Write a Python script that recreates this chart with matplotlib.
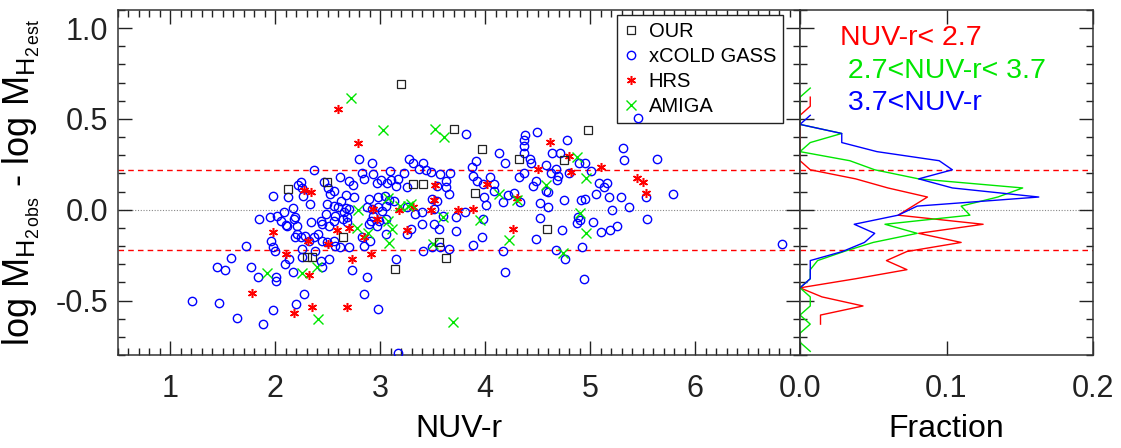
import matplotlib
matplotlib.use('Agg')
import matplotlib.pyplot as plt
from matplotlib import font_manager
from matplotlib.ticker import MultipleLocator
import numpy as np

# ---- OUR sample (black squares)
our_x = [3.20, 3.70, 3.97, 4.32, 4.98, 4.75, 2.12, 2.49, 3.31, 3.41, 3.90, 2.64,
         2.30, 2.35, 3.14, 3.56, 3.63, 4.59]
our_y = [0.692, 0.445, 0.335, 0.280, 0.440, 0.275, 0.115, 0.154, 0.143, 0.143,
         0.093, -0.148, -0.258, -0.258, -0.324, -0.176, -0.264, -0.104]

# ---- xCOLD GASS (blue circles)
xcg_x = [2.80, 2.92, 3.27, 3.31, 3.41, 2.37, 2.62, 2.83, 2.93, 3.09, 3.23, 3.37,
         3.44, 3.48, 3.57, 3.66, 2.24, 2.46, 2.70, 2.84, 3.01, 3.10, 3.17, 3.63,
         2.22, 2.25, 1.98, 2.12, 2.26, 2.50, 2.56, 2.52, 2.74, 2.97, 3.06, 3.15,
         3.25, 3.54, 3.63, 3.65, 3.49, 3.54, 2.75, 2.67, 2.63, 2.89, 2.98, 3.04,
         3.08, 3.13, 2.08, 2.17, 2.19, 2.33, 2.49, 2.56, 2.60, 2.67, 2.70, 2.48,
         2.57, 2.68, 2.65, 2.87, 2.92, 2.98, 3.02, 3.05, 3.25, 3.40, 3.33, 3.51,
         3.60, 1.95, 1.84, 2.02, 2.05, 2.11, 2.18, 2.10, 2.21, 2.34, 2.43, 2.44,
         2.51, 2.56, 2.64, 2.68, 2.93, 2.91, 2.89, 2.99, 2.97, 3.05, 3.29, 3.40,
         3.51, 3.56, 1.96, 1.98, 2.00, 2.21, 2.19, 2.24, 2.28, 2.32, 2.37, 2.41,
         2.44, 2.25, 2.49, 2.56, 2.57, 2.62, 2.70, 2.84, 2.90, 2.83, 3.05, 3.25,
         3.41, 3.49, 3.57, 3.65, 1.72, 2.09, 2.13, 2.17, 2.25, 2.38, 2.43, 2.51,
         2.73, 2.87, 3.15, 1.44, 1.52, 1.58, 1.77, 1.83, 2.01, 2.01, 1.21, 1.46,
         1.63, 1.88, 1.98, 2.20, 2.27, 2.84, 2.98, 3.17, 2.44,
         3.82, 3.91, 3.87, 3.92, 3.88, 3.81, 3.72, 3.72, 3.88, 4.19, 4.94, 5.64,
         5.79, 6.83, 5.46,
         4.38, 4.49, 4.37, 4.37, 4.37, 4.13, 4.19, 4.43, 4.44, 4.37, 4.32, 4.48,
         4.46, 4.58, 4.64, 4.71, 4.78, 4.63, 4.67, 4.69, 4.68, 4.80, 4.89, 4.95,
         5.01, 5.08, 5.16, 5.13, 5.06, 5.18, 5.29, 5.31, 5.32, 5.37, 5.54, 5.53,
         5.21, 5.03, 5.10, 5.19, 5.26, 4.88, 4.90, 4.87, 4.92, 4.73, 4.76, 4.67,
         4.48, 4.52, 4.60, 4.52, 4.75, 4.91, 4.95, 4.17, 3.97, 3.98, 3.99, 4.08,
         4.17, 4.22, 4.27, 4.33, 4.58, 4.60, 4.01, 4.08, 3.98, 4.05]
xcg_y = [0.277, 0.255, 0.282, 0.258, 0.260, 0.220, 0.181, 0.205, 0.196, 0.214,
         0.200, 0.223, 0.220, 0.209, 0.196, 0.205, 0.150, 0.150, 0.159, 0.168,
         0.165, 0.165, 0.168, 0.159, 0.137, 0.119, 0.077, 0.068, 0.077, 0.119,
         0.104, 0.086, 0.137, 0.145, 0.145, 0.132, 0.126, 0.132, 0.123, 0.086,
         0.059, 0.049, 0.068, 0.081, 0.049, 0.059, 0.068, 0.077, 0.055, 0.049,
         -0.015, 0.009, -0.042, 0.031, 0.031, 0.022, 0.013, 0.009, 0.004, -0.024,
         -0.033, -0.042, -0.015, 0.016, 0.004, 0.013, -0.005, 0.022, 0.013, -0.015,
         -0.024, 0.004, -0.033, -0.042, -0.051, -0.033, -0.060, -0.088, -0.051,
         -0.082, -0.088, -0.070, -0.060, -0.079, -0.088, -0.060, -0.051, -0.070,
         -0.033, -0.060, -0.079, -0.060, -0.088, -0.051, -0.106, -0.079, -0.079,
         -0.106, -0.170, -0.207, -0.225, -0.134, -0.152, -0.152, -0.143, -0.170,
         -0.152, -0.134, -0.170, -0.216, -0.179, -0.170, -0.198, -0.207, -0.207,
         -0.198, -0.170, -0.152, -0.134, -0.134, -0.225, -0.207, -0.207, -0.216,
         -0.200, -0.299, -0.271, -0.344, -0.262, -0.225, -0.280, -0.271, -0.332,
         -0.372, -0.271, -0.317, -0.332, -0.266, -0.317, -0.372, -0.372, -0.390,
         -0.500, -0.511, -0.597, -0.632, -0.551, -0.518, -0.463, -0.463, -0.549,
         -0.789, -0.317,
         0.416, 0.269, 0.236, 0.159, 0.187, -0.015, -0.042, -0.115, -0.192, -0.344,
         -0.381, 0.282, 0.086, -0.189, 0.507,
         0.412, 0.430, 0.385, 0.352, 0.315, 0.315, 0.260, 0.278, 0.260, 0.205,
         0.178, 0.159, 0.132, 0.245, 0.315, 0.310, 0.385, 0.205, 0.223, 0.187,
         0.163, 0.205, 0.255, 0.255, 0.211, 0.145, 0.145, 0.123, 0.086, 0.071,
         0.068, 0.339, 0.275, 0.013, -0.051, 0.071, -0.002, -0.070, -0.125, -0.112,
         -0.088, -0.038, -0.057, -0.075, -0.207, -0.112, -0.271, -0.222, -0.161,
         -0.046, 0.013, 0.035, 0.053, 0.053, 0.059, -0.229, -0.152, -0.051, 0.071,
         0.101, 0.040, 0.081, 0.090, 0.040, 0.104, 0.095, 0.026, 0.141, 0.141, 0.178]

# ---- HRS (red asterisks)
hrs_x = [2.60, 2.79, 2.27, 2.34, 1.98, 2.10, 2.31, 2.50, 2.70, 2.59, 2.84, 2.73,
         2.91, 2.32, 1.78, 2.18, 2.35, 2.68, 2.93, 2.97, 3.18, 3.31, 3.48, 3.51,
         3.52, 3.74, 3.88, 4.02, 3.25, 4.62, 4.80, 4.50, 4.82, 5.10, 5.45, 5.50,
         5.53, 4.30, 4.26]
hrs_y = [0.555, 0.368, 0.110, 0.099, -0.121, -0.242, -0.170, -0.187, -0.099, -0.110,
         -0.148, -0.269, -0.242, -0.357, -0.456, -0.566, -0.533, -0.533, 0.005,
         -0.049, 0.000, 0.016, 0.000, 0.055, 0.137, 0.000, 0.005, 0.143, -0.110,
         0.374, 0.297, 0.225, 0.209, 0.236, 0.176, 0.154, 0.093, 0.066, -0.104]

# ---- AMIGA (green crosses)
amiga_x = [2.72, 3.03, 3.52, 3.61, 4.87, 4.96, 4.58, 4.13, 4.30, 4.90, 4.96, 4.23,
           4.74, 3.95, 3.69, 2.79, 2.78, 2.88, 3.08, 3.07, 3.11, 3.07, 3.19, 3.26,
           3.50, 3.60, 1.92, 2.25, 2.40, 2.41, 3.29]
amiga_y = [0.615, 0.440, 0.445, 0.401, 0.291, 0.176, 0.137, 0.088, 0.055, -0.016,
           -0.126, -0.165, -0.236, -0.055, -0.621, 0.000, -0.099, -0.126, -0.181,
           -0.060, -0.104, 0.066, 0.022, 0.022, -0.187, -0.038, -0.346, -0.346,
           -0.313, -0.604, 0.033]

# ---- fraction histograms (right panel), NaN = bin not drawn
bin_y = [0.67, 0.62, 0.57, 0.52, 0.47, 0.42, 0.37, 0.32, 0.27, 0.22, 0.17, 0.12,
         0.07, 0.02, -0.03, -0.08, -0.13, -0.18, -0.23, -0.28, -0.33, -0.38,
         -0.43, -0.48, -0.53, -0.58, -0.63, -0.68, -0.73, -0.78]
nan = np.nan
frac_blue_nuv = [nan, 0.007, 0.007, 0.0, 0.0, 0.0, 0.0, 0.0, 0.0, 0.007, 0.038, 0.060,
                 0.087, 0.077, 0.067, 0.125, 0.081, 0.110, 0.073, 0.059, 0.073,
                 0.038, 0.0, 0.015, 0.043, 0.014, 0.014, nan, nan, nan]
frac_mid_nuv = [0.007, 0.0, 0.0, 0.0, 0.0, 0.0285, 0.007, 0.0, 0.034, 0.051, 0.081,
                0.152, 0.135, 0.110, 0.116, 0.058, 0.080, 0.050, 0.030, 0.012,
                0.007, 0.007, 0.0, 0.007, 0.007, 0.0, 0.007, 0.0, 0.0, 0.007]
frac_red_nuv = [nan, nan, nan, 0.007, 0.0, 0.0285, 0.0285, 0.0525, 0.095, 0.104,
                0.081, 0.104, 0.163, 0.080, 0.067, 0.037, 0.051, 0.044, 0.029,
                0.007, 0.007, 0.007, 0.0, nan, nan, nan, nan, nan, nan, nan]

hist_labels = ['NUV-r< 2.7', ' 2.7<NUV-r< 3.7', ' 3.7<NUV-r']

RED = '#ff0000'
GREEN = '#00e600'
BLUE = '#0000ff'

names = {f.name for f in font_manager.fontManager.ttflist}
base = 'Liberation Sans' if 'Liberation Sans' in names else 'DejaVu Sans'
plt.rcParams['font.family'] = [base, 'DejaVu Sans']
plt.rcParams['mathtext.fontset'] = 'custom'
plt.rcParams['mathtext.rm'] = base
plt.rcParams['mathtext.it'] = base
plt.rcParams['axes.linewidth'] = 1.1
plt.rcParams['axes.edgecolor'] = '#333333'

fig = plt.figure(figsize=(11.21, 4.48), dpi=100)
W, H = 1121.0, 448.0
ax = fig.add_axes([118 / W, 93 / H, 682 / W, 345 / H])
ax2 = fig.add_axes([800 / W, 93 / H, 293 / W, 345 / H])

# reference lines in both panels
for a in (ax, ax2):
    a.axhline(0.22, color=RED, ls=(0, (4, 3)), lw=1.0, zorder=1)
    a.axhline(-0.22, color=RED, ls=(0, (4, 3)), lw=1.0, zorder=1)
    a.axhline(0.0, color='#888888', ls=(0, (1, 1.5)), lw=0.8, zorder=1)

ax.plot(xcg_x, xcg_y, ls='none', marker='o', ms=6, mfc='none', mec=BLUE,
        mew=1.0, zorder=3, label='xCOLD GASS')
ax.plot(hrs_x, hrs_y, ls='none', marker=(6, 2, 0), ms=6.5, mec=RED, mew=1.1,
        zorder=4, label='HRS')
ax.plot(amiga_x, amiga_y, ls='none', marker='x', ms=6.5, mec=GREEN, mew=1.0,
        zorder=4, label='AMIGA')
ax.plot(our_x, our_y, ls='none', marker='s', ms=5.5, mfc='none', mec='#222222',
        mew=0.9, zorder=5, label='OUR')

h = {l.get_label(): l for l in ax.get_lines()}
order = ['OUR', 'xCOLD GASS', 'HRS', 'AMIGA']
leg = ax.legend([h[k] for k in order], order,
                loc='upper right', bbox_to_anchor=(0.975, 0.9855),
                borderaxespad=0, fontsize=14.5, frameon=True, fancybox=False,
                edgecolor='#222222', framealpha=1, handlelength=0.7,
                handletextpad=0.5, labelspacing=0.3, borderpad=0.35)
leg.get_frame().set_linewidth(1.0)
leg.set_zorder(2)

ax.set_xlim(0.5, 7.0)
ax.set_ylim(-0.8, 1.1)
ax.set_xticks([1, 2, 3, 4, 5, 6])
ax.set_yticks([-0.5, 0.0, 0.5, 1.0])
ax.set_yticklabels(['-0.5', '0.0', '0.5', '1.0'])
ax.xaxis.set_minor_locator(MultipleLocator(0.1))
ax.yaxis.set_minor_locator(MultipleLocator(0.1))
ax.set_xlabel('NUV-r', fontsize=23, labelpad=7)
ax.set_ylabel(r'log M$_{\mathrm{H}_{\mathrm{2\,obs}}}$ - log M$_{\mathrm{H}_{\mathrm{2\,est}}}$',
              fontsize=26, labelpad=10)

# right panel: fraction profiles
ax2.plot(frac_blue_nuv, bin_y, color=RED, lw=1.0)
ax2.plot(frac_mid_nuv, bin_y, color=GREEN, lw=1.0)
ax2.plot(frac_red_nuv, bin_y, color=BLUE, lw=1.0)
ax2.set_xlim(0.0, 0.2)
ax2.set_ylim(-0.8, 1.1)
ax2.set_xticks([0.0, 0.1, 0.2])
ax2.set_xticklabels(['0.0', '0.1', '0.2'])
ax2.set_yticks([-0.5, 0.0, 0.5, 1.0])
ax2.yaxis.set_minor_locator(MultipleLocator(0.1))
ax2.set_yticklabels([])
ax2.set_xlabel('Fraction', fontsize=23, labelpad=7)
for lab, col, y in zip(hist_labels, (RED, GREEN, BLUE), (0.899, 0.803, 0.710)):
    ax2.text(0.136, y, lab, color=col, fontsize=20.5, transform=ax2.transAxes,
             va='baseline', ha='left')

for a in (ax, ax2):
    a.tick_params(which='both', direction='in', top=True, right=True,
                  colors='#222222', width=1.0)
    a.tick_params(which='major', length=10, labelsize=22, pad=14)
    a.tick_params(which='minor', length=5)
ax.tick_params(axis='y', which='major', pad=7)

fig.savefig('out.png', dpi=100)
